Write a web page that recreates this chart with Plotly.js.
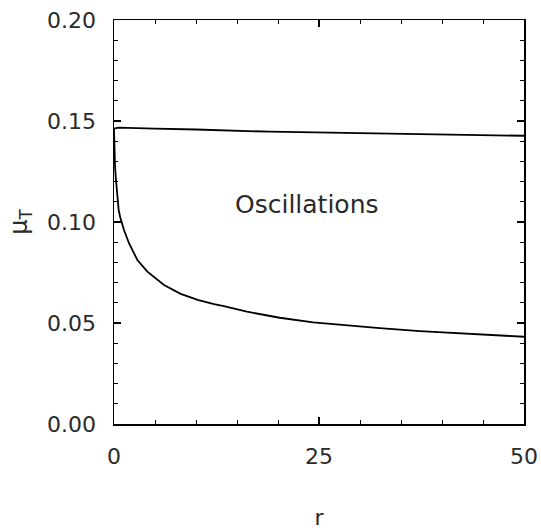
<!DOCTYPE html>
<html>
<head>
<meta charset="utf-8">
<script src="https://cdn.plot.ly/plotly-3.0.1.min.js"></script>
<style>html,body{margin:0;padding:0;background:#fff;}#chart{width:541px;height:530px;}</style>
</head>
<body>
<div id="chart"></div>
<script>
// Upper curve (boundary of oscillation region)
const upperR  = [0, 0.5, 5, 10, 19, 30, 40, 50];
const upperMu = [0.1462, 0.1467, 0.1462, 0.1458, 0.1447, 0.1440, 0.1433, 0.1427];

// Lower curve
const lowerR  = [0, 0.05, 0.12, 0.24, 0.4, 0.57, 0.75, 1.22, 1.83, 2.85, 4.07, 6.1, 8.13, 10.2, 12.2, 13.4, 16.2, 20.2, 24.3, 28.4, 32.4, 37.3, 43.4, 50];
const lowerMu = [0.1462, 0.137, 0.128, 0.1208, 0.112, 0.106, 0.1025, 0.0960, 0.0895, 0.0812, 0.0754, 0.0688, 0.0644, 0.0614, 0.0594, 0.0584, 0.0556, 0.0526, 0.0503, 0.0488, 0.0475, 0.0460, 0.0446, 0.0432];

const xTickVals = [0, 25, 50];
const yTickVals = [0.00, 0.05, 0.10, 0.15, 0.20];
const regionLabel = "Oscillations";

const FONT = "DejaVu Sans, sans-serif";
const INK = "#2a2a2a";

const traces = [
  {x: upperR, y: upperMu, mode: "lines", line: {color: "#000", width: 1.8}, showlegend: false, hoverinfo: "skip"},
  {x: lowerR, y: lowerMu, mode: "lines", line: {color: "#000", width: 1.8}, showlegend: false, hoverinfo: "skip"}
];

const layout = {
  width: 541, height: 530,
  margin: {l: 114, r: 17, t: 20, b: 106},
  paper_bgcolor: "#fff", plot_bgcolor: "#fff",
  font: {family: FONT, color: INK, size: 22},
  xaxis: {
    range: [0, 50], tickvals: xTickVals, ticktext: xTickVals.map(String),
    ticks: "inside", ticklen: 7, tickwidth: 1.2, tickcolor: "#000",
    minor: {dtick: 5, ticks: "inside", ticklen: 4, tickwidth: 1, tickcolor: "#000"},
    showline: true, linecolor: "#000", linewidth: 1.5, mirror: "allticks",
    showgrid: false, zeroline: false, ticklabelstandoff: 12,
    tickfont: {family: FONT, size: 22, color: INK},
    title: {text: "r", font: {family: FONT, size: 22, color: INK}, standoff: 46}
  },
  yaxis: {
    range: [0, 0.20], tickvals: yTickVals, ticktext: yTickVals.map(v => v.toFixed(2)),
    ticks: "inside", ticklen: 7, tickwidth: 1.2, tickcolor: "#000",
    minor: {dtick: 0.01, ticks: "inside", ticklen: 4, tickwidth: 1, tickcolor: "#000"},
    showline: true, linecolor: "#000", linewidth: 1.5, mirror: "allticks",
    showgrid: false, zeroline: false, ticklabelstandoff: 12,
    tickfont: {family: FONT, size: 22, color: INK},
    title: {text: "μ<sub>T</sub>", font: {family: FONT, size: 24, color: INK}, standoff: 12}
  },
  annotations: [
    {x: 23.5, y: 0.1085, xref: "x", yref: "y", text: regionLabel, showarrow: false,
     font: {family: FONT, size: 25, color: INK}}
  ]
};

Plotly.newPlot("chart", traces, layout, {staticPlot: true, displayModeBar: false});
</script>
</body>
</html>
